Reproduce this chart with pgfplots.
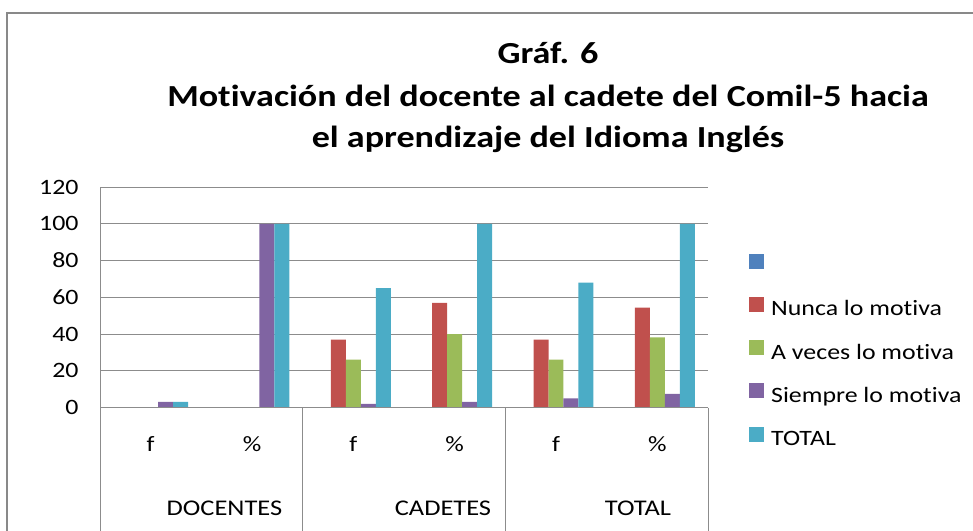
\documentclass[border=0pt]{standalone}
\usepackage{fontspec}
\setmainfont{Carlito}[FakeStretch=1.18, Ligatures=CommonOff]
\usepackage{pgfplots}
\pgfplotsset{compat=1.18}

\definecolor{sBlue}{HTML}{4F81BD}
\definecolor{sRed}{HTML}{C0504D}
\definecolor{sGreen}{HTML}{9BBB59}
\definecolor{sPurple}{HTML}{8064A2}
\definecolor{sAqua}{HTML}{4BACC6}
\definecolor{gridgray}{HTML}{8C8C8C}
\definecolor{framegray}{HTML}{898989}

\pgfplotsset{
  xlbar/.style={fill=#1, draw=none,
    legend image code/.code={\fill[##1] (0bp,-1bp) rectangle (15bp,14bp);}},
}

\begin{document}
\begin{tikzpicture}
\useasboundingbox (0,0) rectangle (973bp,-531bp);
% chart frame (right and bottom sides fall outside the picture)
\draw[framegray, line width=1.5bp] (7bp,-531bp) -- (7bp,-13bp) -- (973bp,-13bp);

% title
\begin{scope}[every node/.style={font=\fontsize{30.7}{36}\selectfont\bfseries, anchor=base}]
\node at (548bp,-63bp) {Gráf. 6};
\node at (548bp,-106bp) {Motivación del docente al cadete del Comil-5 hacia};
\node at (548bp,-147bp) {el aprendizaje del Idioma Inglés};
\end{scope}

\begin{axis}[
  at={(100bp,-407.5bp)}, anchor=south west,
  scale only axis, width=608bp, height=220.5bp,
  ybar=0pt, bar width=0.148,
  xmin=-0.5, xmax=5.5, ymin=0, ymax=120,
  ytick={0,20,...,120},
  xtick={0,...,5}, xticklabels={f,\%,f,\%,f,\%},
  axis line style={draw=none},
  ymajorgrids, grid style={draw=gridgray, line width=1bp},
  major tick length=0pt,
  /pgf/number format/assume math mode=true,
  tick label style={font=\fontsize{22}{26}\selectfont},
  yticklabel style={anchor=east, xshift=-18bp},
  xticklabel style={anchor=base, yshift=-44bp},
  clip=false,
  legend cell align=left,
  legend style={at={(axis description cs:1.0674,0.251)}, anchor=west,
    draw=none, fill=none, inner sep=0pt,
    font=\fontsize{22}{26}\selectfont, row sep=19.2bp,
    nodes={inner xsep=7bp, inner ysep=0pt, text height=15bp, text depth=5bp}},
]

% first series of the workbook is empty (all zero)
\addplot[xlbar=sBlue] coordinates {(0,0) (1,0) (2,0) (3,0) (4,0) (5,0)};
\addlegendentry{\mbox{}}
\addplot[xlbar=sRed] coordinates {(0,0) (1,0) (2,37) (3,57) (4,37) (5,54.4)};
\addlegendentry{Nunca lo motiva}
\addplot[xlbar=sGreen] coordinates {(0,0) (1,0) (2,26) (3,40) (4,26) (5,38.2)};
\addlegendentry{A veces lo motiva}
\addplot[xlbar=sPurple] coordinates {(0,3) (1,100) (2,2) (3,3) (4,5) (5,7.4)};
\addlegendentry{Siempre lo motiva}
\addplot[xlbar=sAqua] coordinates {(0,3) (1,100) (2,65) (3,100) (4,68) (5,100)};
\addlegendentry{TOTAL}

% axis lines and group separators (run down past the picture edge)
\draw[gridgray, line width=1bp] (axis cs:-0.5,120) -- (axis cs:-0.5,-68);
\draw[gridgray, line width=1bp] (axis cs:-0.5,0) -- (axis cs:5.5,0);
\draw[gridgray, line width=1bp] (axis cs:1.5,0) -- (axis cs:1.5,-68);
\draw[gridgray, line width=1bp] (axis cs:3.5,0) -- (axis cs:3.5,-68);
\draw[gridgray, line width=1bp] (axis cs:5.5,0) -- (axis cs:5.5,-68);
\end{axis}

% group labels of the category axis
\begin{scope}[every node/.style={font=\fontsize{22.5}{27}\selectfont, anchor=base}]
\node at (224.5bp,-515bp) {DOCENTES};
\node at (443bp,-515bp) {CADETES};
\node at (638bp,-515bp) {TOTAL};
\end{scope}
\end{tikzpicture}
\end{document}
